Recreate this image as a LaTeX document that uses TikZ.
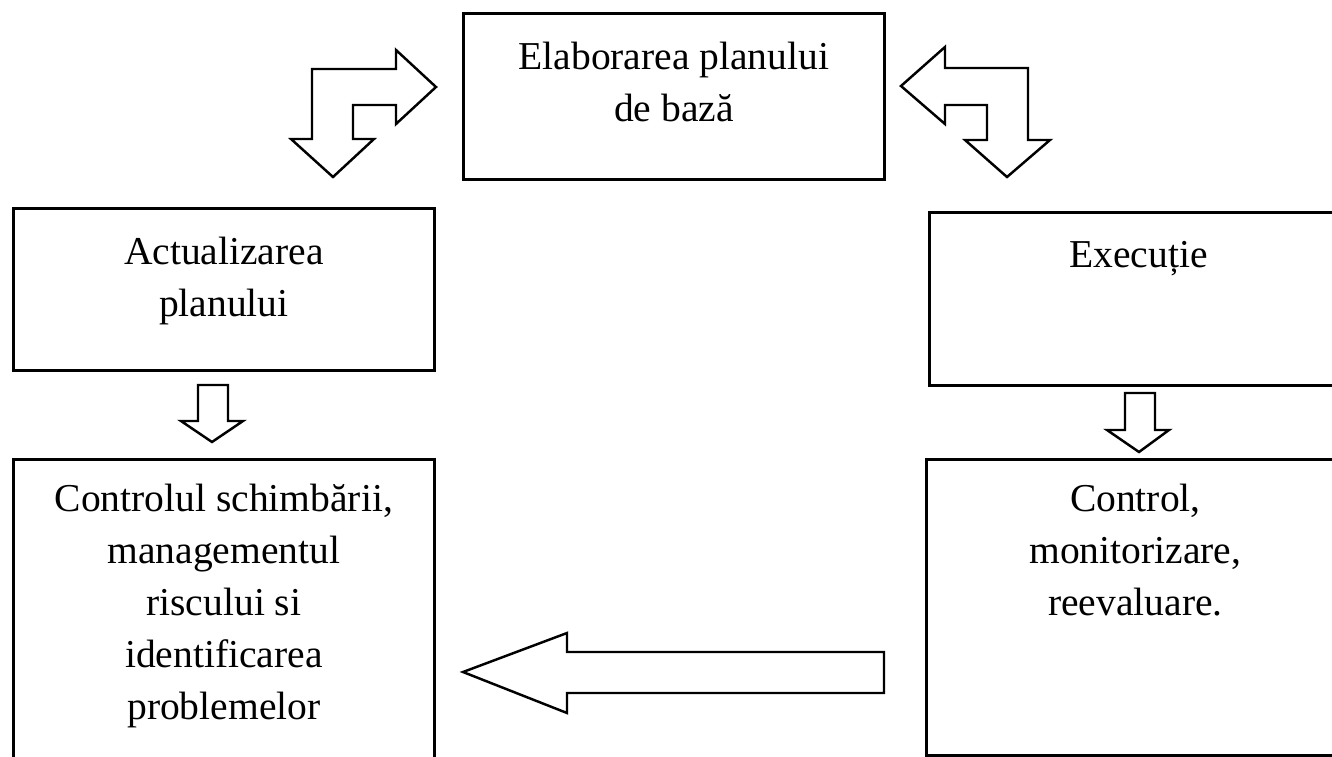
\documentclass[tikz,border=0pt]{standalone}
\usepackage{fontspec}
\setmainfont{Liberation Serif}
\usetikzlibrary{positioning}

\begin{document}
\begin{tikzpicture}[x=0.02cm,y=-0.02cm,line width=1.6pt,
	box/.style={draw=black,rectangle,inner sep=0pt,anchor=north west},
	txt/.style={align=center,inner sep=0pt,font=\fontsize{22.5}{29.6}\selectfont},
	blockarrow/.style={draw=black,fill=white,line width=1.4pt,line join=miter}]
	\useasboundingbox (0,0) rectangle (1332,757);
	\clip (0,0) rectangle (1332,757);

	% the five boxes
	\node[box,minimum width=8.42cm,minimum height=3.32cm] (plan)    at (462,12)  {};
	\node[box,minimum width=8.42cm,minimum height=3.24cm] (update)  at (12,207)  {};
	\node[box,minimum width=8.36cm,minimum height=3.46cm] (exec)    at (928,211) {};
	\node[box,minimum width=8.36cm,minimum height=5.92cm] (control) at (925,458) {};
	\node[box,minimum width=8.42cm,minimum height=6.40cm] (change)  at (12,458)  {};

	\node[txt,below=0.58cm of plan.north]    (plantxt)    {Elaborarea planului\\de bază};
	\node[txt,below=0.58cm of update.north]  (updatetxt)  {Actualizarea\\planului};
	\node[txt,below=0.58cm of exec.north]    (exectxt)    {Execuție};
	\node[txt,below=0.5cm of control.north]  (controltxt) {Control,\\monitorizare,\\reevaluare.};
	\node[txt,below=0.5cm of change.north]   (changetxt)  {Controlul schimbării,\\managementul\\riscului si\\identificarea\\problemelor};

	% bent double arrows
	\draw[blockarrow] (333,177) -- (291,139) -- (312,139) -- (312,69) -- (396,69) -- (396,50)
		-- (436,87) -- (396,124) -- (396,105) -- (353,105) -- (353,139) -- (374,139) -- cycle;
	\draw[blockarrow] (1007,177) -- (1050,140) -- (1028,140) -- (1028,68) -- (945,68) -- (945,47)
		-- (901,86) -- (945,124) -- (945,105) -- (987,105) -- (987,140) -- (965,140) -- cycle;

	% straight arrows
	\draw[blockarrow] (212,442) -- (181,421) -- (198,421) -- (198,385) -- (228,385) -- (228,421)
		-- (243,421) -- cycle;
	\draw[blockarrow] (1139,452) -- (1107,430) -- (1125,430) -- (1125,393) -- (1155,393) -- (1155,430)
		-- (1169,430) -- cycle;
	\draw[blockarrow] (463,672) -- (567,633) -- (567,652) -- (884,652) -- (884,693) -- (567,693)
		-- (567,713) -- cycle;
\end{tikzpicture}
\end{document}
